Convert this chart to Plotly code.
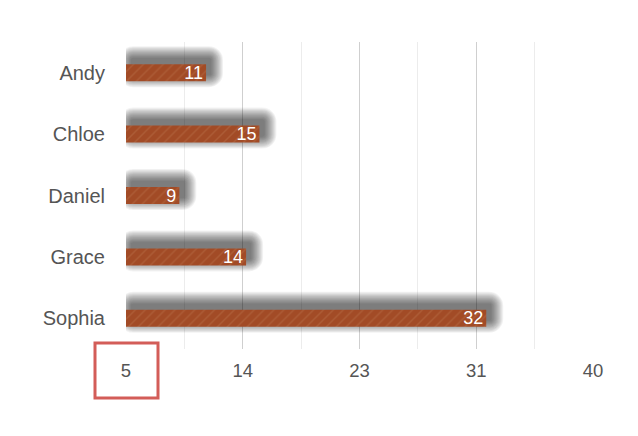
import plotly.graph_objects as go

names = ["Andy", "Chloe", "Daniel", "Grace", "Sophia"]
values = [11, 15, 9, 14, 32]
tick_vals = [5, 13.75, 22.5, 31.25, 40]
tick_text = ["5", "14", "23", "31", "40"]
minor_vals = [9.375, 18.125, 26.875, 35.625]
x_min, x_max = 5, 40

OFF = 8  # page body margin
W, H = 638, 436
ML, MT = 126 - OFF, 42 - OFF
MR, MB = W - (593 - OFF), H - (349 - OFF)
pw, ph = W - ML - MR, H - MT - MB
px_x = (x_max - x_min) / pw
cat_px = ph / len(names)
bw = 17 / cat_px

fig = go.Figure()

# blurred drop shadow approximated by stacked translucent layers
n_layers = 16
shift_x, shift_up = 5, 6
for k in range(n_layers):
    spread = 0.8 * k
    w = bw + 2 * spread / cat_px
    start = x_min + (shift_x - spread) * px_x
    fig.add_trace(go.Bar(
        y=names, x=[v + (shift_x + spread) * px_x - start for v in values], base=start,
        orientation="h", width=w, offset=-w / 2 - shift_up / cat_px,
        marker=dict(color="rgba(30,30,30,0.048)", line=dict(width=0), cornerradius=2 + spread),
        hoverinfo="skip", showlegend=False, cliponaxis=True,
    ))

fig.add_trace(go.Bar(
    y=names, x=[v - x_min for v in values], base=x_min, orientation="h",
    width=bw,
    marker=dict(color="#a24b26", line=dict(width=0),
                pattern=dict(shape="/", fgcolor="#c4845a", bgcolor="#a24b26",
                             size=7, solidity=0.2, fgopacity=0.3)),
    text=[str(v) for v in values], textposition="inside", insidetextanchor="end",
    textangle=0, constraintext="none",
    textfont=dict(color="white", size=18, family="Liberation Sans, Arial, sans-serif"),
    showlegend=False,
))

fig.update_layout(
    width=W, height=H, barmode="overlay",
    margin=dict(l=ML, r=MR, t=MT, b=MB),
    paper_bgcolor="white", plot_bgcolor="white",
    font=dict(family="Liberation Sans, Arial, sans-serif", size=19, color="#555555"),
    xaxis=dict(range=[x_min, x_max], tickvals=tick_vals, ticktext=tick_text,
               showgrid=True, gridcolor="#cfcfcf", gridwidth=1, zeroline=False,
               showline=False, ticks="", ticklabelstandoff=8,
               tickfont=dict(size=18.5),
               minor=dict(tickvals=minor_vals, showgrid=True, gridcolor="#ececec")),
    yaxis=dict(autorange="reversed", showgrid=False, zeroline=False, showline=False,
               ticks="", ticklabelstandoff=20, tickfont=dict(size=20)),
    shapes=[dict(type="rect", xref="paper", yref="paper",
                 x0=(95 - OFF - ML) / pw, x1=(158 - OFF - ML) / pw,
                 y0=(H - MB - (398 - OFF)) / ph, y1=(H - MB - (343 - OFF)) / ph,
                 line=dict(color="#d35d58", width=3), fillcolor="rgba(0,0,0,0)")],
)

fig.write_html("out.html")
